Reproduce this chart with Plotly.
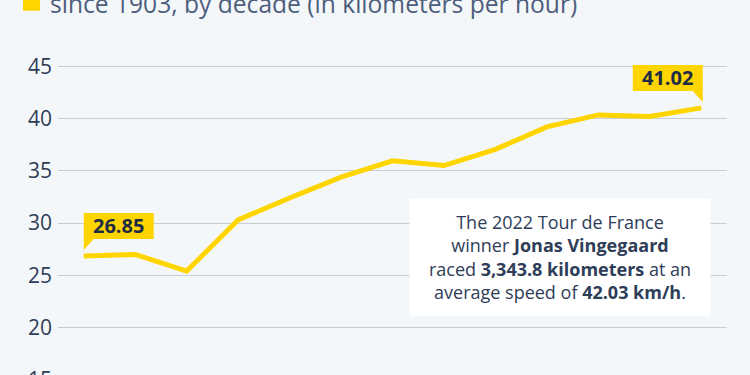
import plotly.graph_objects as go

# ---- data ----
decades = ["1900s", "1910s", "1920s", "1930s", "1940s", "1950s", "1960s",
           "1970s", "1980s", "1990s", "2000s", "2010s", "2020s"]
avg_speed = [26.85, 27.0, 25.4, 30.3, 32.4, 34.4, 35.95, 35.5, 37.05, 39.2, 40.35, 40.2, 41.02]
y_ticks = [15, 20, 25, 30, 35, 40, 45]
subtitle = "since 1903, by decade (in kilometers per hour)"
note = ("The 2022 Tour de France<br>winner <b>Jonas Vingegaard</b><br>"
        "raced <b>3,343.8 kilometers</b> at an<br>average speed of <b>42.03 km/h</b>.")

YELLOW = "#FFD500"
NAVY = "#1d2b44"
SLATE = "#2e3d58"
BG = "#f4f7fa"
FONT = "Open Sans"

W, H = 750, 382
ML, MR, MT, MB = 58, 23, 40, 0
plot_w = W - ML - MR
plot_h = H - MT - MB

fig = go.Figure()
fig.add_trace(go.Scatter(
    x=list(range(len(decades))), y=avg_speed, mode="lines",
    line=dict(color=YELLOW, width=5), hoverinfo="skip", showlegend=False,
    customdata=decades,
))

# callouts for first and last values
first_i, last_i = 0, len(decades) - 1
callouts = [
    (first_i, avg_speed[first_i], 1, 0.0),
    (last_i, avg_speed[last_i], -1, 1.5),
]
for xi, yv, d, dx in callouts:
    w = 70
    path = (f"M{dx},6 L{dx},43 L{dx + d * w},43 L{dx + d * w},17 "
            f"L{dx + d * 10},17 Z")
    fig.add_shape(type="path", xref="x", yref="y", xsizemode="pixel",
                  ysizemode="pixel", xanchor=xi, yanchor=yv, path=path,
                  fillcolor=YELLOW, line=dict(width=0), layer="above")
    fig.add_annotation(x=xi, y=yv, xref="x", yref="y", text=f"<b>{yv:.2f}</b>",
                       showarrow=False, xshift=dx + d * w / 2, yshift=30,
                       font=dict(family=FONT, size=20, color=NAVY))

# note box
fig.add_annotation(
    xref="paper", yref="paper",
    x=(560 - ML) / plot_w, y=(H - 257) / plot_h,
    xanchor="center", yanchor="middle",
    text=note, showarrow=False, align="center",
    width=300, height=116, bgcolor="white", borderpad=0,
    font=dict(family=FONT, size=18, color=SLATE),
)

# subtitle with yellow legend square (cropped at top)
fig.add_annotation(
    xref="paper", yref="paper", x=(48 - ML) / plot_w, y=(H - 3) / plot_h,
    xanchor="left", yanchor="middle", text=subtitle, showarrow=False,
    font=dict(family=FONT, size=24.6, color="#4d5e7c"),
)
fig.add_shape(type="rect", xref="paper", yref="paper",
              x0=(23 - ML) / plot_w, x1=(40 - ML) / plot_w,
              y0=(H - 10.7) / plot_h, y1=(H + 6) / plot_h,
              fillcolor=YELLOW, line=dict(width=0))

px_per_unit = (379.8 - 66.3) / 30
y_top = 45 + (66.3 - MT) / px_per_unit
y_bottom = 45 - (H - 66.3) / px_per_unit
fig.update_layout(
    width=W, height=H,
    margin=dict(l=ML, r=MR, t=MT, b=MB, pad=0, autoexpand=False),
    paper_bgcolor=BG, plot_bgcolor=BG,
    font=dict(family=FONT),
    xaxis=dict(range=[-0.5, len(decades) - 0.5], visible=False, fixedrange=True,
               automargin=False),
    yaxis=dict(range=[y_bottom, y_top], tickvals=y_ticks, automargin=False,
               showgrid=True, gridcolor="#c9cdd3", gridwidth=1, zeroline=False,
               showline=False, ticks="", ticklabelstandoff=5, fixedrange=True,
               ticklabeloverflow="allow",
               tickfont=dict(family=FONT, size=21, color=SLATE)),
)

fig.write_html(
    "out.html",
    config={"displayModeBar": False, "staticPlot": True},
    post_script="document.body.style.margin='0';document.body.style.overflow='hidden';"
                "document.documentElement.style.overflow='hidden';",
)
